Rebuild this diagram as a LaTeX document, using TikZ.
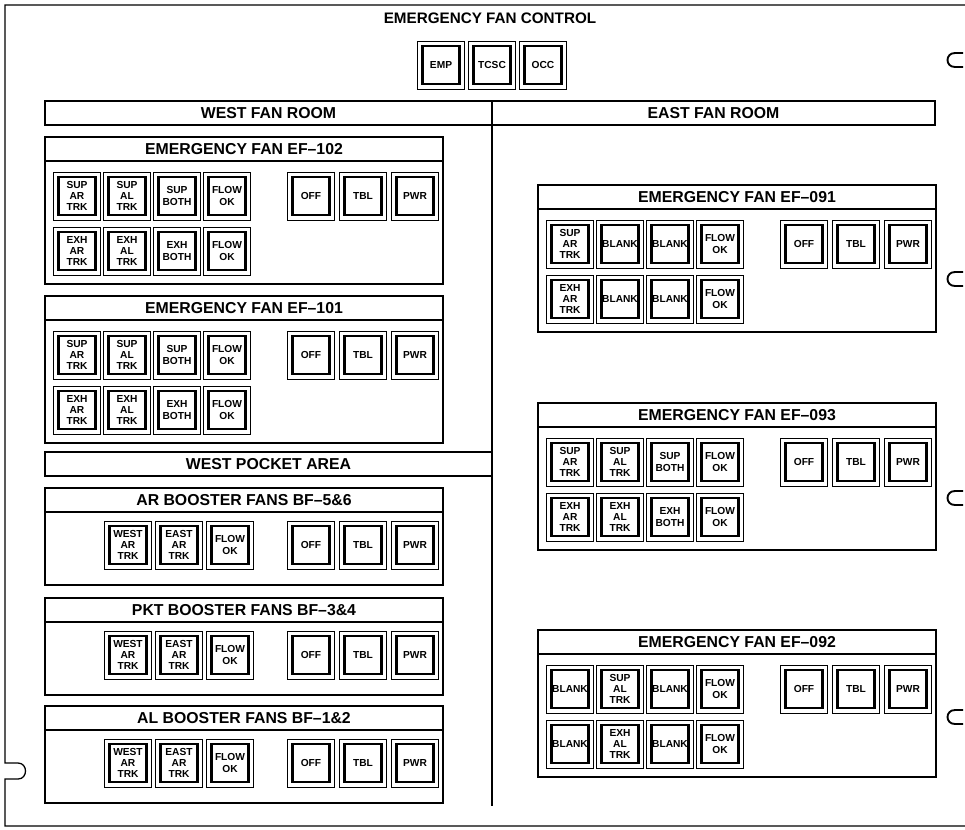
\documentclass[tikz,border=0pt]{standalone}
\usepackage{fontspec}
\setmainfont{Liberation Sans}
\usetikzlibrary{positioning}

\begin{document}
\begin{tikzpicture}[x=0.03cm, y=-0.03cm,
  every node/.style={font=\bfseries},
  frame/.style={line width=1.1pt, black},
  notch/.style={line width=1.6pt, black},
  panel/.style={line width=2pt, black},
  sep/.style={line width=1.1pt, black},
  ttl/.style={font=\bfseries\fontsize{13.5}{15}\selectfont, inner sep=0pt},
  btn/.style={rectangle, draw, line width=0.7pt, minimum width=1.41cm, minimum height=1.44cm, inner sep=0pt, align=center,
    font=\bfseries\fontsize{8.7}{9.5}\selectfont,
    path picture={\draw[line width=1.9pt] ([shift={(0.15cm,-0.15cm)}]path picture bounding box.north west) rectangle ([shift={(-0.15cm,0.15cm)}]path picture bounding box.south east);}},
]
  \useasboundingbox (0,0) rectangle (965,829);

  % outer frame and notches
  \draw[frame] (965,5) -- (5,5) -- (5,763) -- (18,763) .. controls (28,763) and (28,779) .. (18,779) -- (5,779) -- (5,826) -- (965,826);
  \foreach \y in {60,279,498,717}
    \draw[notch] (963,\y-7) -- (955,\y-7) .. controls (945,\y-7) and (945,\y+7) .. (955,\y+7) -- (963,\y+7);

  % control locations
  \node[ttl, font=\bfseries\fontsize{13}{15}\selectfont] (ctl) at (490,18) {EMERGENCY FAN CONTROL};
  \node[btn] (emp) at (441,65) {EMP};
  \node[btn] (tcsc) at (492,65) {TCSC};
  \node[btn] (occ) at (543,65) {OCC};

  % room headers
  \draw[panel] (45,101) rectangle (935,125);
  \draw[panel] (492,101) -- (492,806);
  \node[ttl] (west) at (268.5,113.5) {WEST FAN ROOM};
  \node[ttl] (east) at (713.5,113.5) {EAST FAN ROOM};
  \draw[panel] (45,452) rectangle (492,476);
  \node[ttl] (pocket) at (268.5,464) {WEST POCKET AREA};

  % emergency fan panels
  \foreach \x/\y/\n in {45/137/102, 45/296/101, 538/185/091, 538/403/093, 538/630/092} {
    \draw[panel] (\x,\y) rectangle (\x+398,\y+147);
    \draw[sep] (\x,\y+24) -- (\x+398,\y+24);
    \node[ttl] (ttl\n) at (\x+199,\y+12) {EMERGENCY FAN EF–\n};
    \foreach \lab [count=\i] in {OFF,TBL,PWR}
      \node[btn] (\n\lab) at (\x+214+52*\i,\y+59) {\lab};
  }
  \foreach \x/\y/\n in {45/137/102, 45/296/101, 538/403/093} {
    \foreach \lab [count=\i] in {{SUP\\AR\\TRK},{SUP\\AL\\TRK},{SUP\\BOTH},{FLOW\\OK}}
      \node[btn] (s\n-\i) at (\x-18+50*\i,\y+59) {\lab};
    \foreach \lab [count=\i] in {{EXH\\AR\\TRK},{EXH\\AL\\TRK},{EXH\\BOTH},{FLOW\\OK}}
      \node[btn] (e\n-\i) at (\x-18+50*\i,\y+114) {\lab};
  }
  \foreach \lab [count=\i] in {{SUP\\AR\\TRK},BLANK,BLANK,{FLOW\\OK}}
    \node[btn] (s091-\i) at (520+50*\i,244) {\lab};
  \foreach \lab [count=\i] in {{EXH\\AR\\TRK},BLANK,BLANK,{FLOW\\OK}}
    \node[btn] (e091-\i) at (520+50*\i,299) {\lab};
  \foreach \lab [count=\i] in {BLANK,{SUP\\AL\\TRK},BLANK,{FLOW\\OK}}
    \node[btn] (s092-\i) at (520+50*\i,689) {\lab};
  \foreach \lab [count=\i] in {BLANK,{EXH\\AL\\TRK},BLANK,{FLOW\\OK}}
    \node[btn] (e092-\i) at (520+50*\i,744) {\lab};

  % booster fan panels
  \foreach \y/\n/\txt in {488/ar/AR BOOSTER FANS BF–5\&6, 598/pkt/PKT BOOSTER FANS BF–3\&4, 706/al/AL BOOSTER FANS BF–1\&2} {
    \draw[panel] (45,\y) rectangle (443,\y+97);
    \draw[sep] (45,\y+24) -- (443,\y+24);
    \node[ttl] (ttl\n) at (244,\y+12) {\txt};
    \foreach \lab [count=\i] in {{WEST\\AR\\TRK},{EAST\\AR\\TRK},{FLOW\\OK}}
      \node[btn] (\n-\i) at (77+51*\i,\y+57) {\lab};
    \foreach \lab [count=\i] in {OFF,TBL,PWR}
      \node[btn] (\n\lab) at (259+52*\i,\y+57) {\lab};
  }
\end{tikzpicture}
\end{document}
